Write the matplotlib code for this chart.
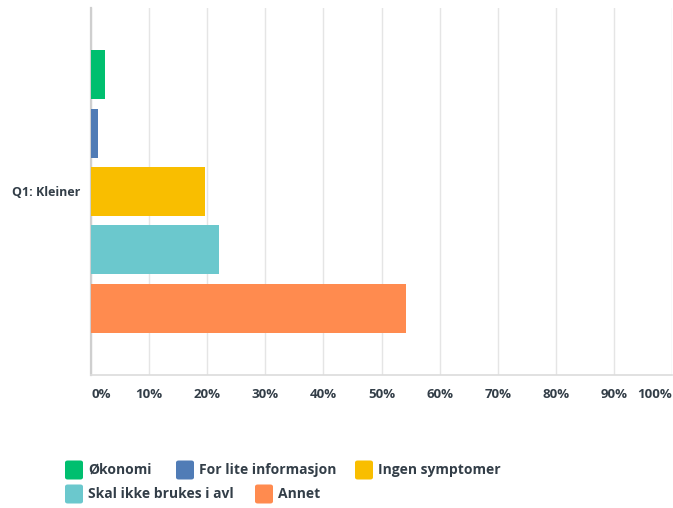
import numpy as np
import matplotlib.pyplot as plt
from matplotlib.patches import FancyBboxPatch

# ---- data ---------------------------------------------------------
question = "Q1: Kleiner"
answers = ["Økonomi", "For lite informasjon", "Ingen symptomer",
           "Skal ikke brukes i avl", "Annet"]
percent = [2.4, 1.2, 19.6, 22.0, 54.3]
colors = ["#00bf6f", "#507cb6", "#f9be00", "#6bc8cd", "#ff8b4f"]
ticks = [0, 10, 20, 30, 40, 50, 60, 70, 80, 90, 100]
tick_labels = [f"{t}%" for t in ticks]

TXT = "#333e48"
FONT = ["Open Sans", "DejaVu Sans"]

fig = plt.figure(figsize=(6.73, 5.08), dpi=100)
ax = fig.add_axes([91 / 673, 1 - 375 / 508, 581 / 673, 367 / 508])

pos = np.arange(len(answers))
ax.barh(pos, percent, height=0.84, color=colors, zorder=3)

ax.set_xlim(0, 100)
ax.set_ylim(len(answers) - 1 + 1.14, -1.14)

# gridlines
ax.set_xticks(ticks)
ax.grid(axis="x", color="#e5e5e5", lw=1.0, zorder=0)
ax.tick_params(axis="x", length=0, pad=9)
ax.set_xticklabels(tick_labels, fontsize=9.5, color=TXT,
                   fontweight="bold", family=FONT)
labs = ax.get_xticklabels()
labs[0].set_ha("left")
labs[-1].set_ha("right")

ax.set_yticks([pos.mean()])
ax.set_yticklabels([question], fontsize=9, color=TXT,
                   fontweight="bold", family=FONT)
ax.tick_params(axis="y", length=0, pad=8)

for s in ["top", "right"]:
    ax.spines[s].set_visible(False)
ax.spines["left"].set_color("#cfcfcf")
ax.spines["left"].set_linewidth(1.6)
ax.spines["bottom"].set_color("#dcdcdc")
ax.spines["bottom"].set_linewidth(1.2)

# ---- legend (flowing rows, drawn by hand) -------------------------
rows = [[(0, 65), (1, 176), (2, 355)], [(3, 65), (4, 255)]]
row_y = [470, 494]
for r, items in enumerate(rows):
    y = row_y[r]
    for idx, x in items:
        fig.patches.append(FancyBboxPatch(
            (x / 673, 1 - (y + 9.5) / 508), 18 / 673, 19 / 508,
            boxstyle="round,pad=0,rounding_size=0.004",
            transform=fig.transFigure, facecolor=colors[idx],
            edgecolor="none"))
        fig.text((x + 23) / 673, 1 - y / 508, answers[idx],
                 fontsize=10, color=TXT, fontweight="bold",
                 family=FONT, va="center", ha="left")

fig.savefig("out.png", dpi=100, facecolor="white")
